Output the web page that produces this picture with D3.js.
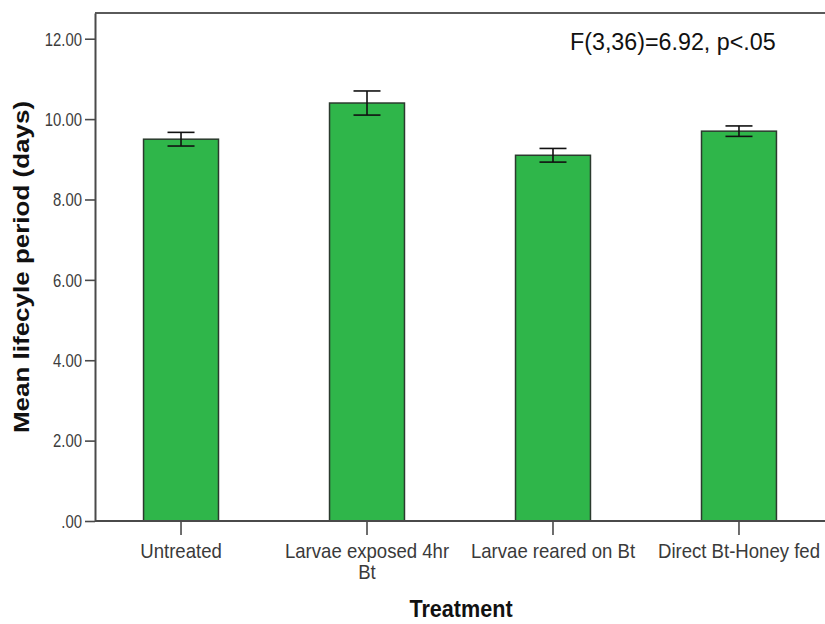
<!DOCTYPE html>
<html>
<head>
<meta charset="utf-8">
<script src="https://cdn.jsdelivr.net/npm/d3@7"></script>
<style>
  html, body { margin: 0; padding: 0; background: #fff; }
  svg { display: block; font-family: "Liberation Sans", Arial, sans-serif; }
</style>
</head>
<body>
<svg id="chart" width="825" height="624"></svg>
<script>
// Mean lifecycle period per treatment group, with error bars
const categories = ["Untreated", "Larvae exposed 4hr Bt", "Larvae reared on Bt", "Direct Bt-Honey fed"];
const means = [9.50, 10.40, 9.10, 9.70];
const errors = [0.17, 0.30, 0.17, 0.13];
const yTicks = [0, 2, 4, 6, 8, 10, 12];
const yMax = 12.64;
const annotation = "F(3,36)=6.92, p<.05";
const xTitle = "Treatment";
const yTitle = "Mean lifecyle period (days)";

const svg = d3.select("#chart");
const plotLeft = 95, plotRight = 825, plotTop = 13, plotBottom = 521;
const squeeze = 0.85; // glyphs are drawn slightly condensed

const x = d3.scaleBand().domain(categories).range([plotLeft, plotRight])
  .paddingInner(0.597).paddingOuter(0.261);
const y = d3.scaleLinear().domain([0, yMax]).range([plotBottom, plotTop]);

const axisColor = "#4a4a4a";

// top frame line
svg.append("line")
  .attr("x1", plotLeft).attr("x2", plotRight + 5)
  .attr("y1", y(yMax)).attr("y2", y(yMax))
  .attr("stroke", "#5a5a5a").attr("stroke-width", 2);

// bars
svg.append("g").selectAll("rect").data(categories).join("rect")
  .attr("x", d => x(d))
  .attr("y", (d, i) => y(means[i]))
  .attr("width", x.bandwidth())
  .attr("height", (d, i) => y(0) - y(means[i]))
  .attr("fill", "#2fb64a")
  .attr("stroke", "#2b3a2e")
  .attr("stroke-width", 1.5);

// error bars
const capHalf = 13.5;
const eb = svg.append("g").attr("stroke", "#111").attr("stroke-width", 1.6);
categories.forEach((c, i) => {
  const cx = x(c) + x.bandwidth() / 2;
  const hi = y(means[i] + errors[i]), lo = y(means[i] - errors[i]);
  eb.append("line").attr("x1", cx).attr("x2", cx).attr("y1", hi).attr("y2", lo);
  eb.append("line").attr("x1", cx - capHalf).attr("x2", cx + capHalf).attr("y1", hi).attr("y2", hi);
  eb.append("line").attr("x1", cx - capHalf).attr("x2", cx + capHalf).attr("y1", lo).attr("y2", lo);
});

// y axis
const yAxis = svg.append("g")
  .attr("transform", `translate(${plotLeft},0)`)
  .call(d3.axisLeft(y).tickValues(yTicks).tickSize(10).tickSizeOuter(0)
    .tickFormat(d => d === 0 ? ".00" : d3.format(".2f")(d)));
yAxis.select(".domain").attr("stroke", axisColor).attr("stroke-width", 2);
yAxis.selectAll(".tick line").attr("stroke", axisColor).attr("stroke-width", 1.6);
yAxis.selectAll(".tick text")
  .attr("x", null).attr("dy", "0.36em")
  .attr("transform", `translate(-13,0) scale(${squeeze},1)`)
  .attr("font-size", 17.5).attr("fill", "#3c3c3c")
  .attr("font-family", "'Liberation Sans', Arial, sans-serif");

// x axis
const xAxis = svg.append("g")
  .attr("transform", `translate(0,${plotBottom})`)
  .call(d3.axisBottom(x).tickSize(14).tickSizeOuter(0).tickFormat(""));
xAxis.select(".domain").attr("d", `M${plotLeft},0H${plotRight + 5}`)
  .attr("stroke", axisColor).attr("stroke-width", 2);
xAxis.selectAll(".tick line").attr("stroke", axisColor).attr("stroke-width", 1.6);

// category labels, wrapped when wider than the band step
const labelSize = 21, labelSqueeze = 0.885, maxWidth = 170;
xAxis.selectAll(".tick").each(function(d) {
  const g = d3.select(this);
  const t = g.append("text")
    .attr("font-size", labelSize).attr("fill", "#3a3a3a")
    .attr("text-anchor", "middle")
    .attr("font-family", "'Liberation Sans', Arial, sans-serif")
    .attr("transform", `translate(0,37) scale(${labelSqueeze},1)`);
  const words = d.split(" ");
  let line = [], lineNo = 0;
  let tspan = t.append("tspan").attr("x", 0).attr("y", 0);
  words.forEach(w => {
    line.push(w);
    tspan.text(line.join(" "));
    if (tspan.node().getComputedTextLength() * labelSqueeze > maxWidth && line.length > 1) {
      line.pop();
      tspan.text(line.join(" "));
      line = [w];
      lineNo++;
      tspan = t.append("tspan").attr("x", 0).attr("y", lineNo * 21).text(w);
    }
  });
});

// axis titles
svg.append("text")
  .attr("transform", `translate(461,617) scale(0.9,1)`)
  .attr("text-anchor", "middle")
  .attr("font-size", 24).attr("font-weight", "bold").attr("fill", "#111")
  .text(xTitle);

svg.append("text")
  .attr("transform", `translate(29,${(plotTop + plotBottom) / 2}) scale(0.82,1) rotate(-90)`)
  .attr("text-anchor", "middle")
  .attr("font-size", 26).attr("font-weight", "bold").attr("fill", "#111")
  .text(yTitle);

// test statistic
svg.append("text")
  .attr("transform", `translate(570,50) scale(0.97,1)`)
  .attr("font-size", 24).attr("fill", "#111")
  .text(annotation);
</script>
</body>
</html>
